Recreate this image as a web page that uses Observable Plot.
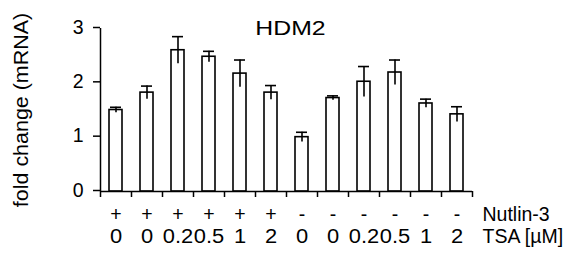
<!DOCTYPE html>
<html>
<head>
<meta charset="utf-8">
<script src="https://cdn.jsdelivr.net/npm/d3@7"></script>
<script src="https://cdn.jsdelivr.net/npm/@observablehq/plot@0.6"></script>
<style>
  body { margin: 0; background: #fff; }
  svg { font-family: "Liberation Sans", Arial, sans-serif; }
</style>
</head>
<body>
<div id="chart"></div>
<script>
const nutlin = ["+", "+", "+", "+", "+", "+", "-", "-", "-", "-", "-", "-"];
const tsa = ["0", "0", "0.2", "0.5", "1", "2", "0", "0", "0.2", "0.5", "1", "2"];
const values = [1.50, 1.82, 2.60, 2.48, 2.17, 1.82, 1.00, 1.72, 2.02, 2.19, 1.62, 1.42];
const errors = [0.05, 0.12, 0.25, 0.10, 0.25, 0.13, 0.09, 0.04, 0.28, 0.23, 0.08, 0.14];
const yTicks = [0, 1, 2, 3];
const rowLabels = ["Nutlin-3", "TSA [µM]"];
const title = "HDM2";
const yLabel = "fold change (mRNA)";

const data = values.map((v, i) => ({i, v, e: errors[i], n: nutlin[i], t: tsa[i]}));
const bounds = d3.range(values.length + 1);

const chart = Plot.plot({
  width: 573,
  height: 255,
  marginLeft: 100,
  marginRight: 101,
  marginTop: 28,
  marginBottom: 64,
  style: {fontSize: "19px", fontFamily: "Liberation Sans, Arial, sans-serif", background: "#fff", color: "#000"},
  x: {type: "linear", domain: [0, values.length], axis: null},
  y: {domain: [0, 3], axis: null},
  marks: [
    Plot.axisY({ticks: yTicks, tickSize: 7, tickPadding: 10, tickFormat: d => String(d), fontSize: 19.5, dy: -1, label: null, strokeWidth: 1.5}),
    Plot.ruleX([0], {y1: 0, y2: 3, stroke: "#000", strokeWidth: 1.5}),
    Plot.rectY(data, {x1: d => d.i, x2: d => d.i + 1, y: "v", insetLeft: 9, insetRight: 9, fill: "#fff", stroke: "#000", strokeWidth: 1.6}),
    Plot.ruleX(data, {x: d => d.i + 0.5, y1: d => d.v - d.e, y2: d => d.v + d.e, stroke: "#000", strokeWidth: 1.6}),
    Plot.ruleY(data, {x1: d => d.i, x2: d => d.i + 1, y: d => d.v + d.e, insetLeft: 10, insetRight: 10, stroke: "#000", strokeWidth: 1.6}),
    Plot.ruleY([0], {stroke: "#000", strokeWidth: 1.5}),
    Plot.axisX({ticks: bounds, tickSize: 6, tickFormat: () => "", strokeWidth: 1.5}),
    Plot.text(data, {x: d => d.i + 0.5, text: "n", frameAnchor: "bottom", dy: 29, fontSize: 19.5}),
    Plot.text(data, {x: d => d.i + 0.5, text: "t", frameAnchor: "bottom", dy: 51, fontSize: 19.5, className: "tsa-lbl"}),
    Plot.text([rowLabels[0]], {frameAnchor: "bottom-right", dx: 10, dy: 29, textAnchor: "start", fontSize: 19.5, text: d => d}),
    Plot.text([rowLabels[1]], {frameAnchor: "bottom-right", dx: 10, dy: 51, textAnchor: "start", fontSize: 19.5, text: d => d}),
    Plot.text([title], {frameAnchor: "top", dy: -8, dx: 4, fontSize: 20, text: d => d}),
    Plot.text([yLabel], {frameAnchor: "left", dx: -79, rotate: -90, textAnchor: "middle", fontSize: 19.5, text: d => d})
  ]
});
document.getElementById("chart").appendChild(chart);
// the reference's title, axis label and dose labels are drawn a little wider than plain Arial
d3.select(chart).selectAll("text").each(function() {
  const t = this.textContent;
  const inTsa = this.closest(".tsa-lbl") !== null;
  if (t !== title && t !== yLabel && !inTsa) return;
  const len = this.getComputedTextLength();
  if (len > 0) {
    const k = t === yLabel ? 1.1 : t === title ? 1.24 : 1.12;
    this.setAttribute("textLength", (len * k).toFixed(1));
    this.setAttribute("lengthAdjust", "spacingAndGlyphs");
  }
});
</script>
</body>
</html>
